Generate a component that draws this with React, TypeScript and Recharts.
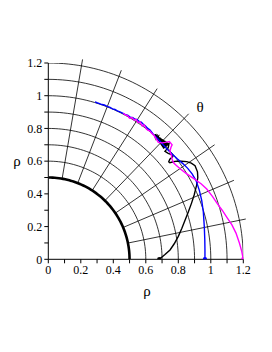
import { ComposedChart, Line, XAxis, YAxis, ReferenceLine, Scatter } from 'recharts'

// axis ticks
const AXIS_TICKS = [0, 0.1, 0.2, 0.3, 0.4, 0.5, 0.6, 0.7, 0.8, 0.9, 1, 1.1, 1.2]
const AXIS_LABELS = ['0', '', '0.2', '', '0.4', '', '0.6', '', '0.8', '', '1', '', '1.2']

// polar grid
const GRID_RADII = [0.6, 0.7, 0.8, 0.9, 1.0, 1.1, 1.2]
const GROUND_RADIUS = 0.5
const THETA_LINES = [0.2, 0.4, 0.6, 0.8, 1.0, 1.2, 1.4]
const RADIAL_FROM = 0.5
const RADIAL_TO = 1.24

// trajectories (x, y)
const BLUE_X = [0.964, 0.964, 0.963, 0.96, 0.954, 0.944, 0.93, 0.91, 0.885, 0.858, 0.828, 0.795, 0.765, 0.735, 0.705, 0.675, 0.648, 0.626, 0.612, 0.598, 0.585, 0.572, 0.56, 0.547, 0.534, 0.52, 0.505, 0.49, 0.472, 0.457, 0.441, 0.425, 0.41, 0.395, 0.38, 0.362, 0.345, 0.33, 0.315, 0.3, 0.287]
const BLUE_Y = [0, 0.06, 0.12, 0.2, 0.29, 0.36, 0.42, 0.48, 0.522, 0.556, 0.585, 0.613, 0.64, 0.67, 0.702, 0.735, 0.762, 0.79, 0.8, 0.815, 0.826, 0.838, 0.842, 0.853, 0.856, 0.866, 0.868, 0.88, 0.886, 0.894, 0.901, 0.907, 0.916, 0.92, 0.929, 0.935, 0.943, 0.946, 0.952, 0.957, 0.962]

const MAGENTA_X = [1.2, 1.19, 1.176, 1.155, 1.13, 1.1, 1.07, 1.04, 1.01, 0.975, 0.94, 0.9, 0.852, 0.815, 0.79, 0.772, 0.762, 0.758, 0.748, 0.755, 0.762, 0.745, 0.72, 0.7, 0.677, 0.665, 0.652, 0.635, 0.624, 0.612, 0.6, 0.59, 0.578, 0.565, 0.552, 0.54, 0.528, 0.515, 0.5, 0.488, 0.475, 0.462]
const MAGENTA_Y = [0, 0.05, 0.1, 0.16, 0.21, 0.255, 0.3, 0.34, 0.385, 0.43, 0.462, 0.49, 0.522, 0.55, 0.572, 0.588, 0.61, 0.635, 0.66, 0.685, 0.7, 0.72, 0.715, 0.712, 0.715, 0.735, 0.755, 0.772, 0.785, 0.79, 0.8, 0.822, 0.815, 0.84, 0.835, 0.855, 0.85, 0.866, 0.862, 0.878, 0.882, 0.893]

const BLACK_X = [0.683, 0.718, 0.749, 0.775, 0.8, 0.822, 0.842, 0.862, 0.882, 0.898, 0.912, 0.92, 0.918, 0.903, 0.88, 0.852, 0.818, 0.79, 0.77, 0.748, 0.741, 0.748, 0.766, 0.758, 0.738, 0.718, 0.728, 0.738,
  0.743, 0.707, 0.736, 0.702, 0.728, 0.697, 0.721, 0.692, 0.713, 0.687, 0.706, 0.682, 0.698, 0.677, 0.691, 0.672, 0.683, 0.668, 0.676, 0.663, 0.668, 0.658, 0.661, 0.653]
const BLACK_Y = [0, 0.029, 0.057, 0.095, 0.14, 0.19, 0.24, 0.29, 0.345, 0.395, 0.45, 0.5, 0.535, 0.572, 0.588, 0.597, 0.599, 0.6, 0.596, 0.59, 0.596, 0.612, 0.628, 0.64, 0.648, 0.66, 0.672, 0.682,
  0.708, 0.678, 0.713, 0.685, 0.718, 0.693, 0.723, 0.7, 0.728, 0.708, 0.732, 0.715, 0.737, 0.723, 0.742, 0.73, 0.747, 0.738, 0.752, 0.745, 0.757, 0.752, 0.762, 0.76]

const toPoints = (xs: number[], ys: number[]) => xs.map((x, i) => ({ x, y: ys[i] }))

const ARC_STEPS = 60
const arc = (r: number) =>
  Array.from({ length: ARC_STEPS + 1 }, (_, i) => {
    const t = (i / ARC_STEPS) * (Math.PI / 2)
    return { x: r * Math.cos(t), y: r * Math.sin(t) }
  })

const SERIES = [
  { key: 'black', color: '#000000', data: toPoints(BLACK_X, BLACK_Y) },
  { key: 'blue', color: '#0000ff', data: toPoints(BLUE_X, BLUE_Y) },
  { key: 'magenta', color: '#ff00ff', data: toPoints(MAGENTA_X, MAGENTA_Y) },
]

const SERIF = '"Liberation Serif", "Times New Roman", serif'
const tickStyle = { fill: '#000', fontSize: 12, fontFamily: SERIF }
const greek = {
  position: 'absolute' as const,
  transform: 'translate(-50%, -50%)',
  fontFamily: SERIF,
  fontSize: 15,
  lineHeight: 1,
  color: '#000',
}

export default function App() {
  return (
    <div style={{ position: 'absolute', left: 0, top: 0, width: 272, height: 352, background: '#fff' }}>
      <ComposedChart
        width={272}
        height={352}
        margin={{ top: 63, right: 28.7, bottom: 62.7, left: 8.3 }}
      >
        <XAxis
          type="number"
          dataKey="x"
          domain={[0, 1.2]}
          ticks={AXIS_TICKS}
          tickFormatter={(v: number) => AXIS_LABELS[AXIS_TICKS.indexOf(v)] ?? ''}
          interval={0}
          allowDataOverflow
          height={30}
          tickSize={4}
          tickMargin={2}
          stroke="#000"
          tick={tickStyle}
        />
        <YAxis
          type="number"
          dataKey="y"
          domain={[0, 1.2]}
          ticks={AXIS_TICKS}
          tickFormatter={(v: number) => AXIS_LABELS[AXIS_TICKS.indexOf(v)] ?? ''}
          interval={0}
          allowDataOverflow
          width={40}
          tickSize={4}
          tickMargin={2}
          stroke="#000"
          tick={tickStyle}
        />
        {GRID_RADII.map((r) => (
          <Line
            key={`arc-${r}`}
            data={arc(r)}
            dataKey="y"
            stroke="#000"
            strokeWidth={0.8}
            dot={false}
            isAnimationActive={false}
          />
        ))}
        <Line
          data={arc(GROUND_RADIUS)}
          dataKey="y"
          stroke="#000"
          strokeWidth={2.6}
          dot={false}
          isAnimationActive={false}
        />
        {THETA_LINES.map((t) => (
          <ReferenceLine
            key={`rad-${t}`}
            segment={[
              { x: RADIAL_FROM * Math.cos(t), y: RADIAL_FROM * Math.sin(t) },
              { x: RADIAL_TO * Math.cos(t), y: RADIAL_TO * Math.sin(t) },
            ]}
            stroke="#000"
            strokeWidth={0.8}
            ifOverflow="visible"
          />
        ))}
        {SERIES.map((s) => (
          <Line
            key={s.key}
            data={s.data}
            dataKey="y"
            stroke={s.color}
            strokeWidth={1.4}
            dot={false}
            isAnimationActive={false}
          />
        ))}
        {SERIES.map((s) => (
          <Scatter
            key={`start-${s.key}`}
            data={[s.data[0]]}
            fill={s.color}
            isAnimationActive={false}
            shape={(p: any) => <circle cx={p.cx} cy={p.cy} r={2.2} fill={s.color} />}
          />
        ))}
      </ComposedChart>
      <span style={{ ...greek, left: 147, top: 291 }}>ρ</span>
      <span style={{ ...greek, left: 17, top: 161 }}>ρ</span>
      <span style={{ ...greek, left: 200, top: 107 }}>θ</span>
    </div>
  )
}
